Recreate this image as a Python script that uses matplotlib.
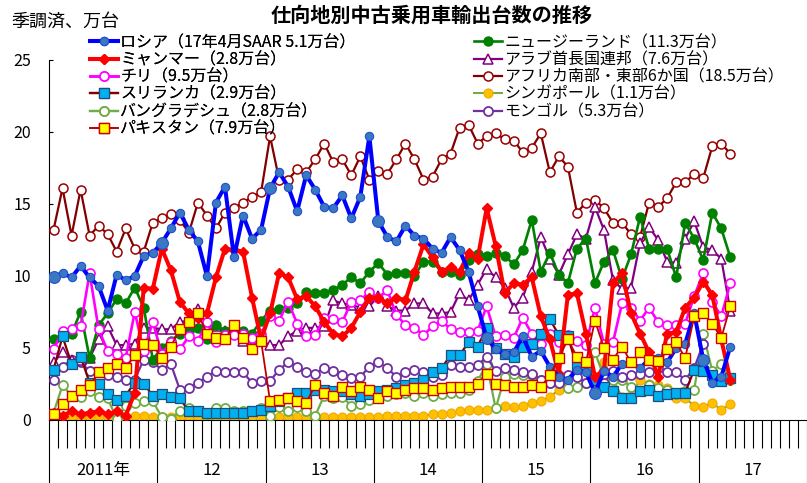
import numpy as np
from matplotlib import pyplot as plt
from matplotlib.transforms import blended_transform_factory

plt.rcParams['font.family'] = ['Noto Sans CJK JP', 'DejaVu Sans']

nan = np.nan

# monthly, 2011/01 .. 2017/04 (SAAR, 万台)
russia = [9.9, 10.2, 9.9, 10.7, 9.9, 9.3, 7.6, 10.1, 9.7, 10.0,
          11.4, 11.6, 12.3, 13.3, 14.4, 13.2, 12.4, 10.0, 15.1, 16.2,
          11.3, 14.2, 12.6, 13.2, 16.1, 17.2, 16.2, 14.5, 17.0, 16.0,
          14.8, 14.7, 15.6, 14.0, 15.5, 19.7, 13.8, 12.7, 12.4, 13.5,
          12.8, 12.6, 11.9, 11.6, 12.7, 11.8, 10.3, 7.9, 5.7, 4.9,
          4.6, 4.7, 5.8, 4.4, 4.8, 3.7, 3.0, 2.8, 3.5, 3.3,
          1.9, 3.4, 3.0, 3.9, 4.0, 3.6, 4.2, 4.3, 4.0, 5.0,
          5.3, 7.4, 4.2, 2.6, 3.0, 5.1]
myanmar = [0.5, 0.3, 0.6, 0.4, 0.5, 0.6, 0.4, 0.6, 0.3, 1.9,
           9.2, 9.1, 11.9, 10.4, 8.2, 7.4, 7.1, 7.4, 9.9, 11.9,
           11.8, 11.7, 8.5, 5.6, 7.4, 10.2, 9.9, 8.4, 8.6, 7.9,
           6.8, 6.0, 5.8, 6.4, 7.5, 8.5, 8.5, 8.1, 8.5, 8.3,
           10.3, 12.2, 11.3, 10.3, 10.6, 10.3, 11.6, 11.2, 14.7, 12.1,
           8.8, 9.5, 9.4, 9.9, 7.2, 5.6, 3.2, 8.7, 8.8, 6.0,
           3.0, 3.5, 9.5, 10.2, 7.4, 6.0, 4.7, 3.0, 6.0, 6.1,
           7.8, 8.5, 9.6, 8.7, 5.6, 2.8]
chile = [4.9, 6.2, 6.3, 6.5, 10.2, 6.3, 4.8, 4.6, 4.3, 7.5,
         4.8, 6.8, 4.6, 5.4, 4.9, 5.8, 5.5, 6.8, 5.4, 5.9,
         5.9, 6.0, 5.7, 6.0, 7.2, 6.9, 8.2, 6.7, 5.8, 5.9,
         7.1, 7.0, 6.8, 8.2, 8.3, 8.9, 8.5, 9.0, 7.3, 6.6,
         6.4, 5.9, 6.5, 6.9, 6.3, 6.1, 6.1, 6.2, 7.9, 5.8,
         5.9, 5.7, 7.1, 6.0, 5.3, 6.0, 5.4, 5.9, 5.5, 5.2,
         7.8, 5.3, 5.4, 8.1, 7.8, 6.9, 7.8, 6.8, 6.6, 6.6,
         6.7, 8.6, 10.2, 8.2, 7.2, 9.5]
srilanka = [3.5, 5.8, 3.9, 4.4, 2.6, 2.5, 1.8, 1.4, 1.7, 2.6,
            2.5, 1.7, 1.8, 1.6, 1.5, 0.6, 0.6, 0.5, 0.5, 0.5,
            0.5, 0.5, 0.6, 0.7, 1.0, 1.3, 1.5, 1.9, 1.9, 2.1,
            2.1, 2.0, 2.0, 1.8, 1.7, 1.8, 2.0, 2.1, 2.2, 2.4,
            2.6, 2.8, 3.3, 3.6, 4.5, 4.5, 5.4, 5.1, 6.4, 5.0,
            4.6, 4.4, 5.1, 5.3, 6.0, 7.0, 5.9, 5.8, 3.7, 3.6,
            2.8, 2.3, 2.0, 1.5, 1.5, 2.0, 2.1, 1.7, 1.8, 1.9,
            1.9, 3.5, 3.4, 3.1, 2.7, 2.9]
bangladesh = [0.5, 2.4, 1.7, 1.6, 2.0, 1.6, 1.5, 0.1, 1.0, 1.2,
              1.3, 1.3, 0.2, 0.1, 0.6, 0.8, 0.6, 0.4, 0.8, 0.8,
              0.6, 0.6, 0.6, 0.8, 0.3, 0.9, 0.6, 0.9, 0.6, 0.3,
              1.7, 1.5, 1.6, 1.0, 1.1, 1.4, 1.5, 1.7, 1.8, 1.9,
              1.7, 1.9, 1.7, 1.8, 1.9, 1.9, 2.1, 2.7, 3.9, 0.8,
              3.0, 3.2, 3.1, 3.1, 2.8, 2.6, 3.0, 2.2, 2.3, 2.6,
              4.7, 3.0, 2.8, 2.8, 2.3, 2.0, 2.4, 2.2, 2.1, 1.8,
              2.0, 2.1, 6.0, 3.4, 3.9, 2.8]
pakistan = [0.4, 1.1, 1.7, 2.1, 2.4, 3.3, 3.6, 3.9, 3.6, 4.5,
            5.3, 5.2, 4.3, 5.1, 6.3, 6.8, 7.4, 6.0, 5.7, 5.6,
            6.6, 5.7, 4.9, 5.5, 1.3, 1.4, 1.5, 1.3, 1.2, 2.4,
            1.9, 1.7, 2.3, 2.0, 2.3, 2.1, 1.5, 2.0, 1.9, 2.1,
            2.2, 2.2, 2.1, 2.2, 2.3, 2.3, 2.3, 2.5, 3.2, 2.5,
            2.4, 2.3, 2.3, 2.4, 2.3, 3.1, 4.3, 5.6, 4.4, 4.0,
            6.9, 5.0, 4.2, 5.1, 4.0, 4.7, 4.2, 4.1, 4.9, 5.4,
            4.3, 7.2, 7.4, 6.7, 5.7, 7.9]
nz = [5.6, 5.8, 6.0, 7.5, 4.3, 6.6, 7.4, 8.4, 8.1, 9.2,
      7.8, 4.2, 5.0, 5.5, 6.0, 6.2, 6.4, 5.6, 6.6, 6.2,
      6.0, 6.2, 6.0, 6.9, 7.6, 7.7, 7.8, 8.1, 8.9, 8.8,
      8.8, 9.0, 9.4, 9.9, 9.5, 10.3, 10.9, 10.1, 10.2, 10.2,
      10.0, 11.0, 11.0, 10.3, 10.3, 10.1, 11.1, 11.5, 11.4, 11.6,
      11.4, 10.8, 11.8, 13.9, 10.3, 11.6, 10.1, 9.5, 11.9, 12.6,
      9.5, 11.0, 11.8, 9.8, 11.5, 14.1, 11.9, 11.9, 11.9, 9.9,
      13.7, 12.6, 11.1, 14.4, 13.3, 11.3]
uae = [4.0, 4.7, 4.2, 4.2, 4.3, 5.6, 6.5, 5.2, 5.2, 5.3,
       6.4, 6.4, 6.3, 6.3, 6.8, 6.9, 7.7, 6.6, 6.5, 6.2,
       6.2, 5.5, 5.6, 5.5, 5.2, 5.2, 5.8, 6.2, 6.4, 6.4,
       6.5, 8.3, 8.1, 8.0, 7.8, 7.9, 8.6, 7.9, 7.6, 7.6,
       8.1, 8.1, 7.4, 7.4, 7.5, 8.8, 8.3, 9.4, 10.5, 9.9,
       9.2, 7.8, 8.5, 10.3, 12.7, 11.2, 10.1, 11.5, 12.9, 12.6,
       14.8, 13.2, 9.7, 9.1, 9.2, 12.3, 13.4, 12.5, 11.0, 10.9,
       12.6, 13.8, 12.0, 11.8, 11.2, 7.6]
africa = [13.2, 16.1, 12.8, 16.0, 12.8, 13.5, 12.9, 11.7, 13.3, 11.9,
          11.7, 13.7, 14.0, 14.3, 13.9, 13.0, 15.1, 14.2, 13.3, 14.4,
          14.7, 15.1, 15.5, 15.8, 19.7, 16.7, 16.7, 17.4, 17.2, 18.1,
          19.2, 17.9, 18.1, 17.0, 18.3, 16.7, 17.3, 17.1, 18.1, 19.2,
          18.1, 16.7, 16.9, 18.1, 18.5, 20.3, 20.5, 19.2, 19.7, 19.9,
          19.5, 19.4, 18.6, 18.9, 19.9, 17.2, 18.3, 17.6, 14.4, 15.1,
          15.3, 14.7, 13.7, 13.7, 12.9, 12.7, 15.1, 14.8, 15.4, 16.5,
          16.5, 17.1, 16.8, 19.0, 19.2, 18.5]
singapore = [0.2, 0.3, 0.2, 0.2, 0.2, 0.3, 0.2, 0.2, 0.2, 0.3,
             0.3, 0.2, 0.2, 0.2, 0.2, 0.2, 0.2, 0.2, 0.2, 0.2,
             0.2, 0.2, 0.2, 0.2, 0.2, 0.2, 0.2, 0.2, 0.2, 0.2,
             0.2, 0.2, 0.2, 0.2, 0.2, 0.2, 0.2, 0.3, 0.3, 0.3,
             0.3, 0.3, 0.4, 0.4, 0.5, 0.6, 0.7, 0.7, 0.7, 0.8,
             1.0, 0.9, 1.0, 1.2, 1.3, 1.6, 2.1, 2.2, 2.3, 2.6,
             2.6, 4.0, 2.8, 1.6, 1.7, 2.8, 2.5, 2.4, 2.2, 1.5,
             1.5, 1.0, 0.9, 1.2, 0.7, 1.1]
mongolia = [2.8, 3.7, 4.2, 4.0, 3.4, 3.3, 3.1, 3.0, 2.8, 2.8,
            4.2, 4.0, 3.5, 3.9, 2.1, 2.2, 2.6, 3.0, 3.4, 3.3,
            3.3, 3.3, 2.6, 2.7, 2.7, 3.5, 4.0, 3.7, 3.3, 3.2,
            3.6, 3.4, 3.1, 2.9, 3.0, 3.7, 4.0, 3.6, 3.0, 3.3,
            3.5, 3.3, 3.0, 3.1, 3.8, 3.7, 3.7, 3.8, 4.4, 3.4,
            3.6, 3.5, 3.3, 3.2, 2.8, 2.6, 2.6, 3.1, 3.0, 2.6,
            2.8, 2.6, 3.4, 3.0, 3.1, 3.2, 3.3, 3.6, 3.3, 3.3,
            2.8, 3.6, 5.3, nan, nan, nan]

year_labels = ["2011年", "12", "13", "14", "15", "16", "17"]

x = np.arange(len(russia)) + 0.5

fig = plt.figure(figsize=(8.07, 4.83), dpi=100)
ax = fig.add_axes([49 / 807, 63 / 483, 758 / 807, 360 / 483])

# bottom layers first
ax.plot(x, singapore, color='#70AD47', lw=1.5, marker='o', ms=6.5,
        mfc='#FFC000', mec='#F2A900', mew=0.8, label="シンガポール（1.1万台）", zorder=2)
ax.plot(x, bangladesh, color='#70AD47', lw=1.6, marker='o', ms=6.5,
        mfc='white', mec='#70AD47', mew=1.3, label="バングラデシュ（2.8万台）", zorder=3)
ax.plot(x, mongolia, color='#7030A0', lw=1.6, marker='o', ms=6.5,
        mfc='white', mec='#7030A0', mew=1.3, label="モンゴル（5.3万台）", zorder=3)
ax.plot(x, africa, color='#800000', lw=1.6, marker='o', ms=6.5,
        mfc='white', mec='#990000', mew=1.1, label="アフリカ南部・東部6か国（18.5万台）", zorder=3)
ax.plot(x, uae, color='#800080', lw=1.6, marker='^', ms=7,
        mfc='white', mec='#800080', mew=1.1, label="アラブ首長国連邦（7.6万台）", zorder=4)
ax.plot(x, nz, color='#008000', lw=1.9, marker='o', ms=6.5,
        mfc='#008000', mec='#008000', label="ニュージーランド（11.3万台）", zorder=4)
ax.plot(x, chile, color='#FF00FF', lw=1.9, marker='o', ms=6.5,
        mfc='white', mec='#FF00FF', mew=1.2, label="チリ（9.5万台）", zorder=5)
ax.plot(x, srilanka, color='#800000', lw=1.6, marker='s', ms=6.5,
        mfc='#00B0F0', mec='#1F4E79', mew=0.9, label="スリランカ（2.9万台）", zorder=5)
ax.plot(x, myanmar, color='#FF0000', lw=2.9, marker='D', ms=5.5,
        mfc='#FF0000', mec='#FF0000', label="ミャンマー（2.8万台）", zorder=6)
ax.plot(x, russia, color='#0000FF', lw=2.9, marker='o', ms=6,
        mfc='#3A78C2', mec='#2050D0', mew=0.8, label="ロシア（17年4月SAAR 5.1万台）", zorder=7)
# January points are drawn larger for Russia
jan = np.arange(0, len(russia), 12)
ax.plot(x[jan], np.array(russia)[jan], ls='none', marker='o', ms=8.5,
        mfc='#3A78C2', mec='#2050D0', mew=0.8, zorder=7)
ax.plot(x, pakistan, color='#C00000', lw=1.3, marker='s', ms=7,
        mfc='#FFFF00', mec='#D00000', mew=1.0, label="パキスタン（7.9万台）", zorder=8)

ax.set_xlim(0, 83.5)
ax.set_ylim(0, 25)
ax.set_yticks([0, 5, 10, 15, 20, 25])
ax.tick_params(axis='y', direction='in', length=3, width=0.8, labelsize=11.5, pad=13)
ax.set_xticks(np.arange(0, 85, 12))
ax.set_xticks(np.arange(0, 84), minor=True)
ax.tick_params(axis='x', which='major', direction='out', length=45.5, width=0.8, labelbottom=False)
ax.tick_params(axis='x', which='minor', direction='out', length=20, width=0.8)
for s in ['top', 'right']:
    ax.spines[s].set_visible(False)
ax.spines['left'].set_linewidth(0.8)
ax.spines['bottom'].set_linewidth(0.8)

trans = blended_transform_factory(ax.transData, ax.transAxes)
for i, lab in enumerate(year_labels):
    ax.text(6 + 12 * i, -0.139, lab, transform=trans, ha='center', va='center', fontsize=12)

fig.text(432 / 807, 1 - 15 / 483, "仕向地別中古乗用車輸出台数の推移", ha='center', va='center',
         fontsize=14.5, fontweight='bold')
fig.text(12 / 807, 1 - 22 / 483, "季調済、万台", ha='left', va='center', fontsize=13)

handles, labels = ax.get_legend_handles_labels()
lab_order_left = ["ロシア（17年4月SAAR 5.1万台）", "ミャンマー（2.8万台）", "チリ（9.5万台）",
                  "スリランカ（2.9万台）", "バングラデシュ（2.8万台）", "パキスタン（7.9万台）"]
lab_order_right = ["ニュージーランド（11.3万台）", "アラブ首長国連邦（7.6万台）",
                   "アフリカ南部・東部6か国（18.5万台）", "シンガポール（1.1万台）", "モンゴル（5.3万台）"]
hmap = dict(zip(labels, handles))

leg_kw = dict(loc='upper left', frameon=False, fontsize=11.5, handlelength=1.75,
              handletextpad=0.15, labelspacing=0.02, borderpad=0, borderaxespad=0)
leg1 = fig.legend([hmap[l] for l in lab_order_left], lab_order_left,
                  bbox_to_anchor=(90 / 807, 1 - 34 / 483), **leg_kw)
fig.add_artist(leg1)
fig.legend([hmap[l] for l in lab_order_right], lab_order_right,
           bbox_to_anchor=(474 / 807, 1 - 34 / 483), **leg_kw)

fig.savefig("out.png", dpi=100)
